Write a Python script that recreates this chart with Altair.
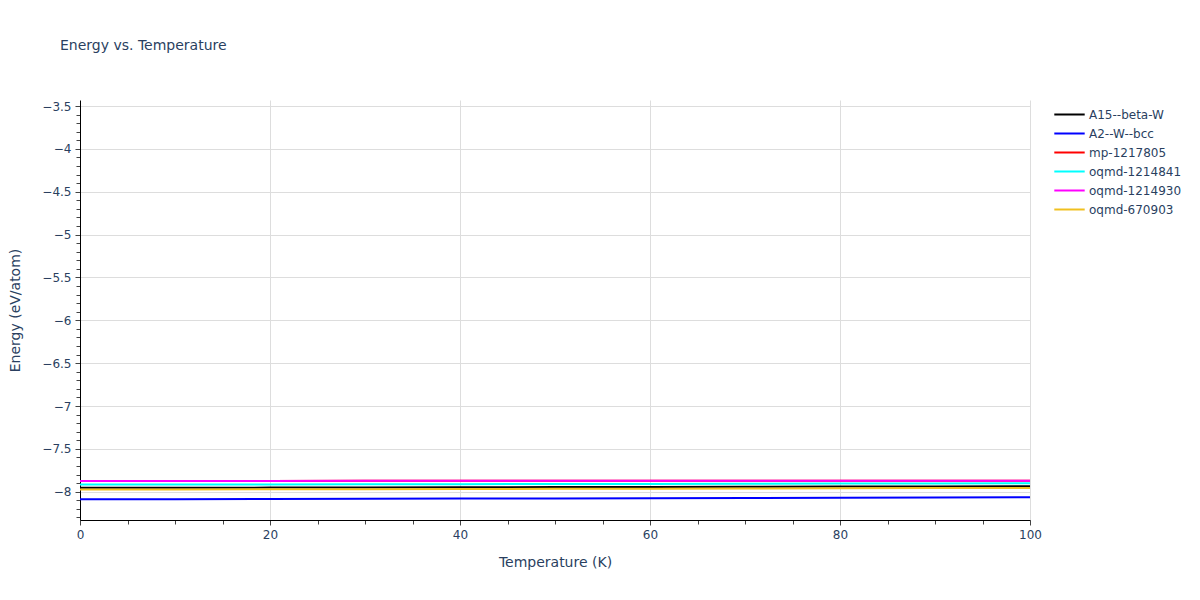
import pandas as pd
import altair as alt

# temperatures (K)
temps = [0, 10, 20, 30, 40, 50, 60, 70, 80, 90, 100]

# energies (eV/atom)
a15_beta_w = [-7.955, -7.954, -7.952, -7.950, -7.948, -7.946, -7.944, -7.942, -7.940, -7.938, -7.936]
a2_w_bcc = [-8.088, -8.087, -8.085, -8.083, -8.080, -8.078, -8.075, -8.073, -8.070, -8.067, -8.064]
mp_1217805 = [-7.874, -7.874, -7.874, -7.873, -7.873, -7.873, -7.872, -7.872, -7.872, -7.871, -7.871]
oqmd_1214841 = [-7.917, -7.916, -7.915, -7.913, -7.912, -7.910, -7.909, -7.907, -7.905, -7.903, -7.901]
oqmd_1214930 = [-7.874, -7.874, -7.874, -7.873, -7.873, -7.873, -7.872, -7.872, -7.872, -7.871, -7.871]
oqmd_670903 = [-7.975, -7.974, -7.972, -7.970, -7.968, -7.966, -7.964, -7.962, -7.960, -7.958, -7.957]

names = ['A15--beta-W', 'A2--W--bcc', 'mp-1217805', 'oqmd-1214841', 'oqmd-1214930', 'oqmd-670903']
colors = ['#000000', '#0000ff', '#ff0000', '#00ffff', '#ff00ff', '#f0c020']
series = [a15_beta_w, a2_w_bcc, mp_1217805, oqmd_1214841, oqmd_1214930, oqmd_670903]

rows = []
for i, (name, vals) in enumerate(zip(names, series)):
    for t, e in zip(temps, vals):
        rows.append({'material': name, 'order': i, 'temperature': t, 'energy': e})
df = pd.DataFrame(rows)

font = 'DejaVu Sans'
txt = '#2a3f5f'

x_ticks = list(range(0, 101, 5))
y_ticks = [round(-8.3 + 0.1 * k, 1) for k in range(49)]

x_axis = alt.Axis(
    values=x_ticks,
    labelExpr="datum.value % 20 == 0 ? datum.label : ''",
    labelFlush=False,
    gridOpacity={"condition": {"test": "datum.value % 20 == 0 && datum.value > 0", "value": 1}, "value": 0},
    tickSize={"condition": {"test": "datum.value % 20 == 0", "value": 5}, "value": 4},
    title='Temperature (K)',
    titlePadding=15,
)
y_axis = alt.Axis(
    values=y_ticks,
    format='~g',
    labelExpr="abs(datum.value * 2 - round(datum.value * 2)) < 0.001 ? datum.label : ''",
    labelFlush=False,
    gridOpacity={"condition": {"test": "abs(datum.value * 2 - round(datum.value * 2)) < 0.001", "value": 1}, "value": 0},
    tickSize={"condition": {"test": "abs(datum.value * 2 - round(datum.value * 2)) < 0.001", "value": 5}, "value": 4},
    title='Energy (eV/atom)',
    titlePadding=19,
)

chart = alt.Chart(df).mark_line(strokeWidth=2, clip=True).encode(
    x=alt.X('temperature:Q', scale=alt.Scale(domain=[0, 100], nice=False, zero=False), axis=x_axis),
    y=alt.Y('energy:Q', scale=alt.Scale(domain=[-8.33, -3.43], nice=False, zero=False), axis=y_axis),
    color=alt.Color('material:N', scale=alt.Scale(domain=names, range=colors),
                    legend=alt.Legend(title=None, orient='none', legendX=979, legendY=4,
                                      symbolType='M-1.6,0H1.6', symbolSize=361, symbolStrokeWidth=2,
                                      labelFont=font, labelFontSize=12, labelColor=txt,
                                      rowPadding=2, labelOffset=9)),
    order='order:Q',
    detail='material:N',
).properties(
    width=950,
    height=420,
    title=alt.TitleParams('Energy vs. Temperature', anchor='start', frame='group',
                          dx=-20, offset=47, font=font, fontSize=14, fontWeight='normal', color=txt),
    autosize=alt.AutoSizeParams(type='none'),
    padding={'left': 72, 'top': 92, 'right': 162, 'bottom': 72},
).configure_view(
    stroke=None,
).configure_axis(
    labelFont=font, labelFontSize=12, labelColor=txt,
    titleFont=font, titleFontSize=14, titleColor=txt, titleFontWeight='normal',
    gridColor='#dddddd', gridWidth=1,
    domainColor='#000000', domainWidth=1,
    tickColor='#444444', labelPadding=4,
)

chart.save("out.html", embed_options={"renderer": "svg", "actions": False})
